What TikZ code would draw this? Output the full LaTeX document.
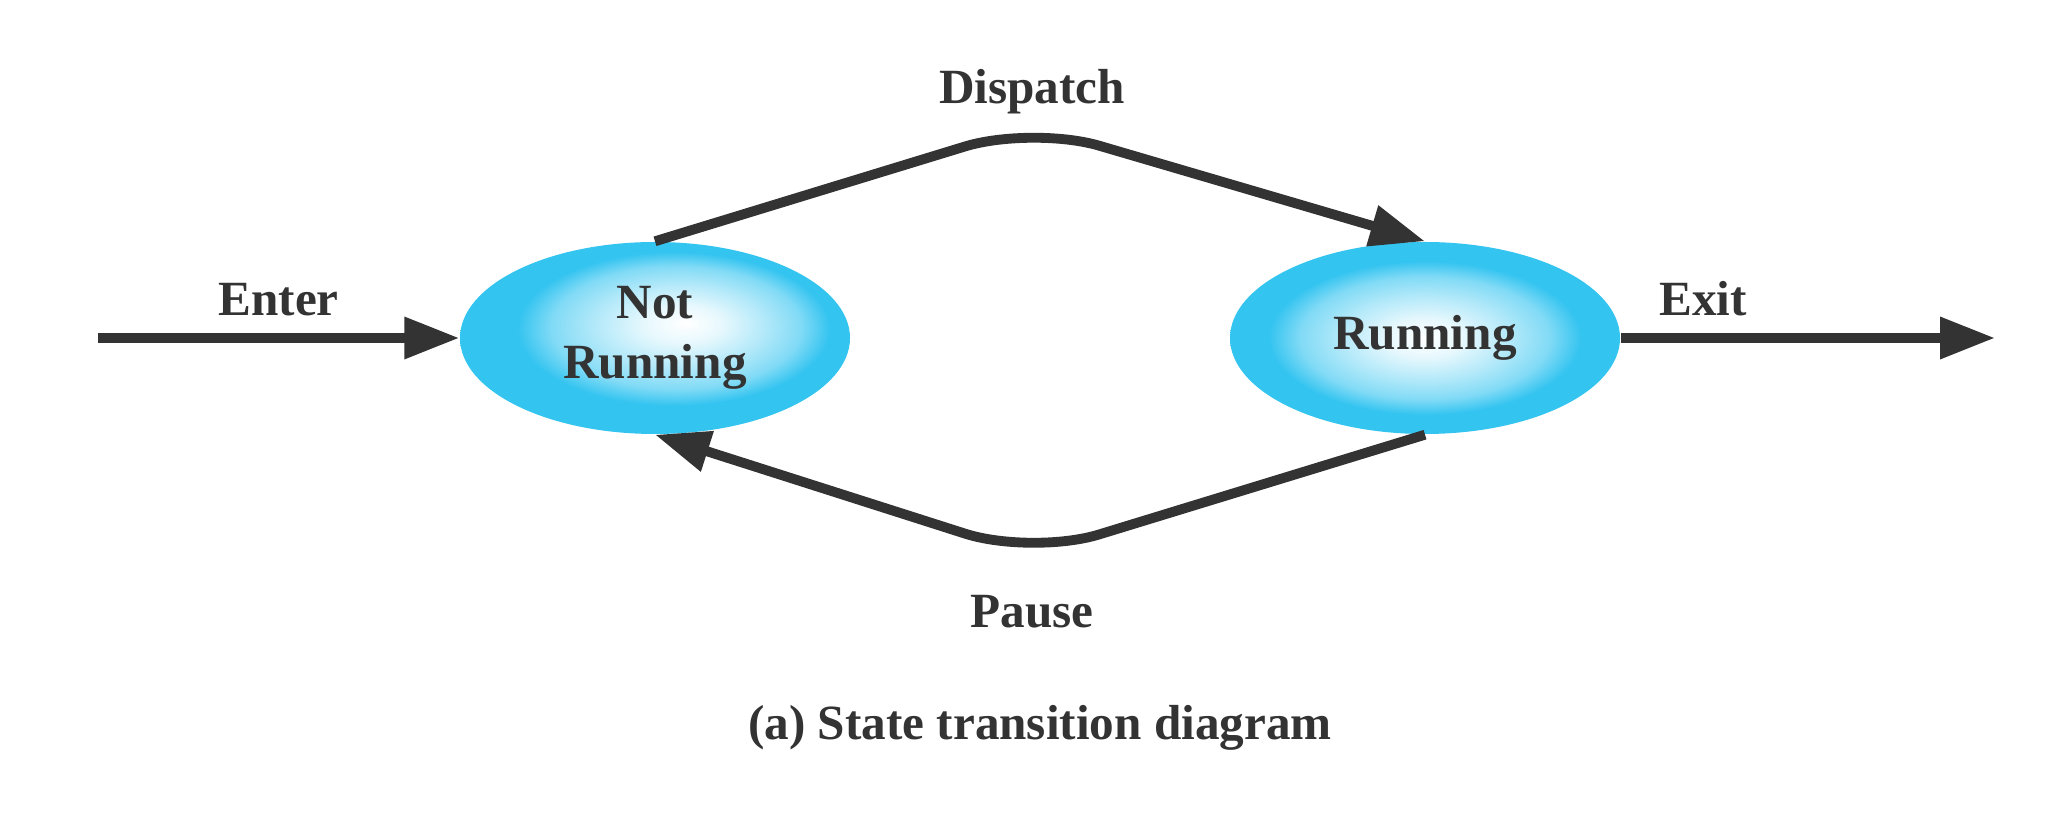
\documentclass[tikz,border=0pt]{standalone}
\usepackage{fontspec}
\setmainfont{Liberation Serif}
\usepackage{tikz}
\usetikzlibrary{shapes.geometric, arrows.meta, positioning}
\definecolor{statecyan}{RGB}{52,196,240}
\definecolor{inkgray}{RGB}{51,51,51}
\pgfdeclareradialshading{glow}{\pgfpoint{0bp}{0bp}}{color(0bp)=(white); color(5bp)=(white!88!statecyan); color(11bp)=(statecyan!38!white); color(16bp)=(statecyan!62!white); color(20bp)=(statecyan); color(25bp)=(statecyan); color(50bp)=(statecyan)}
\pgfdeclareradialshading{glowleft}{\pgfpoint{4bp}{4bp}}{color(0bp)=(white); color(5bp)=(white!88!statecyan); color(11bp)=(statecyan!38!white); color(16bp)=(statecyan!62!white); color(20bp)=(statecyan); color(25bp)=(statecyan); color(50bp)=(statecyan)}
\tikzset{state/.style={ellipse,shade,minimum width=3.9cm,minimum height=1.92cm,inner sep=0pt,align=center,text=inkgray},
         tlabel/.style={text=inkgray},
         arrow/.style={-{Triangle[length=5.5mm,width=4mm]},line width=2.8pt,draw=inkgray}}

\begin{document}
\begin{tikzpicture}[font=\fontsize{14}{17}\selectfont\bfseries]
  \useasboundingbox (0,0) rectangle (20.56,8.20);
  \node (notrun) [state, shading=glowleft] at (6.55,4.82) {Not\\Running};
  \node (run) [state, shading=glow] at (14.25,4.82) {\raisebox{-0.8mm}{Running}};
  \coordinate (enter) at (0.98,4.82);
  \coordinate (exit) at (19.95,4.82);
  \coordinate (top) at (10.32,6.94);
  \coordinate (bot) at (10.32,2.65);
  \draw[arrow] (enter) -- node[tlabel, above=0.5mm] {Enter} (notrun);
  \draw[arrow] (run) -- node[tlabel, pos=0.22, above=0.5mm] {Exit} (exit);
  \draw[arrow, rounded corners=7mm] (notrun.north) -- (top) -- (run.north);
  \draw[arrow, rounded corners=7mm] (run.south) -- (bot) -- (notrun.south);
  \node (dispatch) [tlabel, above=0mm of top] {Dispatch};
  \node (pause) [tlabel, below=2.8mm of bot] {Pause};
  \node (caption) [tlabel] at (10.40,0.92) {(a) State transition diagram};
\end{tikzpicture}
\end{document}
